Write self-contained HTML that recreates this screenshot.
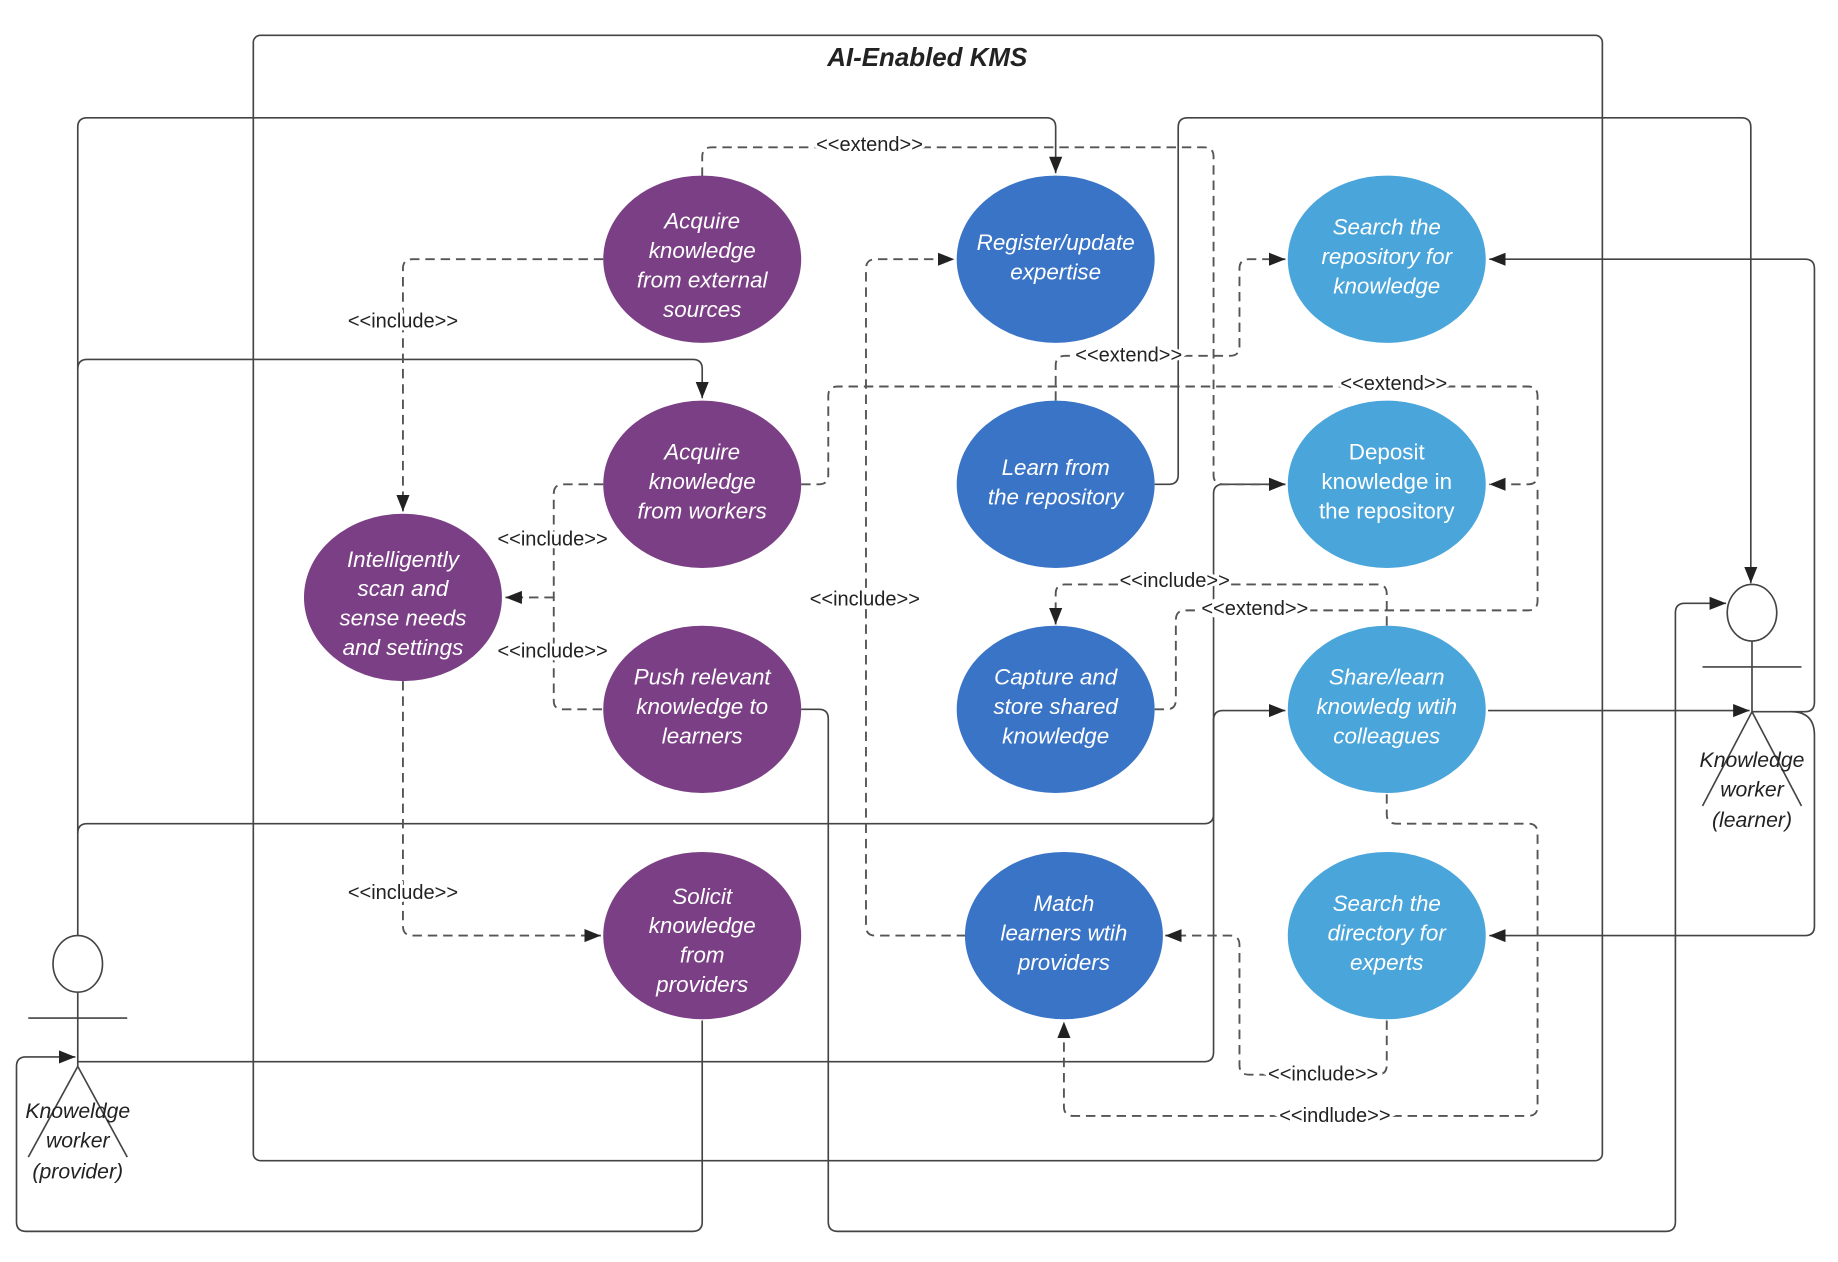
<!DOCTYPE html>
<html><head><meta charset="utf-8"><style>
html,body{margin:0;padding:0;background:#fff;}
svg{display:block;}
text{font-family:"Liberation Sans",sans-serif;}
.u{fill:#fff;font-style:italic;font-size:19px;text-anchor:middle;}
.l{fill:#222;font-size:17px;text-anchor:middle;paint-order:stroke;stroke:#fff;stroke-width:5px;}
.a{fill:#222;font-style:italic;font-size:18px;text-anchor:middle;}
.s{fill:none;stroke:#444;stroke-width:1.4;}
.d{fill:none;stroke:#555;stroke-width:1.6;stroke-dasharray:8 5;}
</style></head><body>
<svg width="1838" height="1262" viewBox="0 0 1560 1071" preserveAspectRatio="none" xmlns="http://www.w3.org/2000/svg">
<defs><marker id="ar" viewBox="0 0 10 10" refX="10" refY="5" markerWidth="9" markerHeight="9" markerUnits="userSpaceOnUse" orient="auto"><path d="M0,0 L10,5 L0,10 z" fill="#222"/></marker>
<marker id="ar2" viewBox="0 0 10 10" refX="10" refY="5" markerWidth="14" markerHeight="14" markerUnits="userSpaceOnUse" orient="auto"><path d="M0,1 L10,5 L0,9 z" fill="#222"/></marker></defs>
<rect x="215" y="30" width="1145" height="955" rx="6" class="s"/>
<text x="787" y="56" font-size="22" font-weight="bold" font-style="italic" text-anchor="middle" fill="#222">AI-Enabled KMS</text>

<!-- solid connectors -->
<path class="s" marker-end="url(#ar2)" d="M66 794 V108 Q66 100 74 100 H888 Q896 100 896 108 V147"/>
<path class="s" marker-end="url(#ar2)" d="M66 313 Q66 305 74 305 H588 Q596 305 596 313 V338"/>
<path class="s" marker-end="url(#ar2)" d="M66 707 Q66 699 74 699 H1022 Q1030 699 1030 691 V611 Q1030 603 1038 603 H1091"/>
<path class="s" marker-end="url(#ar2)" d="M66 901 H1022 Q1030 901 1030 893 V419 Q1030 411 1038 411 H1091"/>
<path class="s" marker-end="url(#ar2)" d="M596 866 V1037 Q596 1045 588 1045 H22 Q14 1045 14 1037 V905 Q14 897 22 897 H64"/>
<path class="s" marker-end="url(#ar2)" d="M680 602 H695 Q703 602 703 610 V1037 Q703 1045 711 1045 H1414 Q1422 1045 1422 1037 V520 Q1422 512 1430 512 H1465"/>
<path class="s" marker-end="url(#ar2)" d="M980 411 H992 Q1000 411 1000 403 V108 Q1000 100 1008 100 H1478 Q1486 100 1486 108 V495"/>
<path class="s" marker-end="url(#ar2)" d="M1487 604 H1532 Q1540 604 1540 596 V228 Q1540 220 1532 220 H1264"/>
<path class="s" marker-end="url(#ar2)" d="M1263 603 H1485"/>
<path class="s" marker-end="url(#ar2)" d="M1520 604 Q1540 604 1540 624 V786 Q1540 794 1532 794 H1264"/>

<!-- dashed connectors -->
<path class="d" marker-end="url(#ar2)" d="M596 150 V133 Q596 125 604 125 H1022 Q1030 125 1030 133 V403 Q1030 411 1038 411 H1091"/>
<path class="d" marker-end="url(#ar2)" d="M512 220 H350 Q342 220 342 228 V434"/>
<path class="d" d="M512 411 H478 Q470 411 470 419 V595 Q470 602 478 602 H512"/>
<path class="d" marker-end="url(#ar2)" d="M470 507 H429"/>
<path class="d" marker-end="url(#ar2)" d="M342 578 V786 Q342 794 350 794 H510"/>
<path class="d" marker-end="url(#ar2)" d="M680 411 H695 Q703 411 703 403 V336 Q703 328 711 328 H1297 Q1305 328 1305 336 V403 Q1305 411 1297 411 H1264"/>
<path class="d" marker-end="url(#ar2)" d="M896 340 V310 Q896 302 904 302 H1044 Q1052 302 1052 294 V228 Q1052 220 1060 220 H1091"/>
<path class="d" marker-end="url(#ar2)" d="M820 794 H743 Q735 794 735 786 V228 Q735 220 743 220 H810"/>
<path class="d" d="M980 602 H990 Q998 602 998 594 V526 Q998 518 1006 518 H1297 Q1305 518 1305 510 V411"/>
<path class="d" marker-end="url(#ar2)" d="M1177 531 V504 Q1177 496 1169 496 H904 Q896 496 896 504 V530"/>
<path class="d" marker-end="url(#ar2)" d="M1177 674 V691 Q1177 699 1185 699 H1297 Q1305 699 1305 707 V939 Q1305 947 1297 947 H911 Q903 947 903 939 V867"/>
<path class="d" marker-end="url(#ar2)" d="M1177 866 V904 Q1177 912 1169 912 H1060 Q1052 912 1052 904 V802 Q1052 794 1044 794 H989"/>

<!-- labels -->
<text class="l" x="738" y="128">&lt;&lt;extend&gt;&gt;</text>
<text class="l" x="342" y="278">&lt;&lt;include&gt;&gt;</text>
<text class="l" x="469" y="463">&lt;&lt;include&gt;&gt;</text>
<text class="l" x="469" y="558">&lt;&lt;include&gt;&gt;</text>
<text class="l" x="342" y="763">&lt;&lt;include&gt;&gt;</text>
<text class="l" x="734" y="514">&lt;&lt;include&gt;&gt;</text>
<text class="l" x="958" y="307">&lt;&lt;extend&gt;&gt;</text>
<text class="l" x="1183" y="331">&lt;&lt;extend&gt;&gt;</text>
<text class="l" x="997" y="498">&lt;&lt;include&gt;&gt;</text>
<text class="l" x="1065" y="522">&lt;&lt;extend&gt;&gt;</text>
<text class="l" x="1123" y="917">&lt;&lt;include&gt;&gt;</text>
<text class="l" x="1133" y="952">&lt;&lt;indlude&gt;&gt;</text>

<!-- use cases -->
<g fill="#7b3f85">
<ellipse cx="596" cy="220" rx="84" ry="71"/>
<ellipse cx="596" cy="411" rx="84" ry="71"/>
<ellipse cx="342" cy="507" rx="84" ry="71"/>
<ellipse cx="596" cy="602" rx="84" ry="71"/>
<ellipse cx="596" cy="794" rx="84" ry="71"/>
</g>
<g fill="#3a74c7">
<ellipse cx="896" cy="220" rx="84" ry="71"/>
<ellipse cx="896" cy="411" rx="84" ry="71"/>
<ellipse cx="896" cy="602" rx="84" ry="71"/>
<ellipse cx="903" cy="794" rx="84" ry="71"/>
</g>
<g fill="#4aa5db">
<ellipse cx="1177" cy="220" rx="84" ry="71"/>
<ellipse cx="1177" cy="411" rx="84" ry="71"/>
<ellipse cx="1177" cy="602" rx="84" ry="71"/>
<ellipse cx="1177" cy="794" rx="84" ry="71"/>
</g>
<text class="u" x="596" y="194">Acquire<tspan x="596" dy="25">knowledge</tspan><tspan x="596" dy="25">from external</tspan><tspan x="596" dy="25">sources</tspan></text>
<text class="u" x="596" y="390">Acquire<tspan x="596" dy="25">knowledge</tspan><tspan x="596" dy="25">from workers</tspan></text>
<text class="u" x="342" y="481">Intelligently<tspan x="342" dy="25">scan and</tspan><tspan x="342" dy="25">sense needs</tspan><tspan x="342" dy="25">and settings</tspan></text>
<text class="u" x="596" y="581">Push relevant<tspan x="596" dy="25">knowledge to</tspan><tspan x="596" dy="25">learners</tspan></text>
<text class="u" x="596" y="767">Solicit<tspan x="596" dy="25">knowledge</tspan><tspan x="596" dy="25">from</tspan><tspan x="596" dy="25">providers</tspan></text>
<text class="u" x="896" y="212">Register/update<tspan x="896" dy="25">expertise</tspan></text>
<text class="u" x="896" y="403">Learn from<tspan x="896" dy="25">the repository</tspan></text>
<text class="u" x="896" y="581">Capture and<tspan x="896" dy="25">store shared</tspan><tspan x="896" dy="25">knowledge</tspan></text>
<text class="u" x="903" y="773">Match<tspan x="903" dy="25">learners wtih</tspan><tspan x="903" dy="25">providers</tspan></text>
<text class="u" x="1177" y="199">Search the<tspan x="1177" dy="25">repository for</tspan><tspan x="1177" dy="25">knowledge</tspan></text>
<text class="u" x="1177" y="390" font-style="normal" style="font-style:normal">Deposit<tspan x="1177" dy="25">knowledge in</tspan><tspan x="1177" dy="25">the repository</tspan></text>
<text class="u" x="1177" y="581">Share/learn<tspan x="1177" dy="25">knowledg wtih</tspan><tspan x="1177" dy="25">colleagues</tspan></text>
<text class="u" x="1177" y="773">Search the<tspan x="1177" dy="25">directory for</tspan><tspan x="1177" dy="25">experts</tspan></text>

<!-- actors -->
<g class="s">
<ellipse cx="66" cy="818" rx="21" ry="24" fill="#fff"/>
<path d="M24 864 H108 M66 842 V905 L24 982 M66 905 L108 982"/>
<ellipse cx="1487" cy="520" rx="21" ry="24" fill="#fff"/>
<path d="M1445 566 H1529 M1487 544 V604 L1445 684 M1487 604 L1529 684"/>
</g>
<text class="a" x="66" y="949">Knoweldge<tspan x="66" dy="25">worker</tspan><tspan x="66" dy="26">(provider)</tspan></text>
<text class="a" x="1487" y="651">Knowledge<tspan x="1487" dy="25">worker</tspan><tspan x="1487" dy="26">(learner)</tspan></text>
</svg>
</body></html>
